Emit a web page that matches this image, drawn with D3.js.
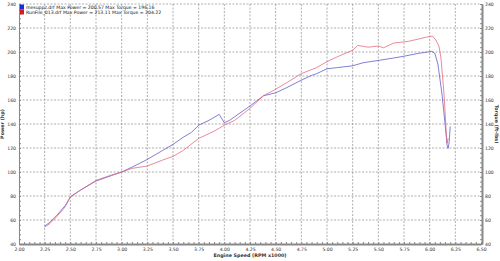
<!DOCTYPE html>
<html>
<head>
<meta charset="utf-8">
<script src="https://cdn.jsdelivr.net/npm/d3@7"></script>
<style>
    body { margin: 0; background: #fff; }
    svg text { font-family: "DejaVu Sans", Verdana, sans-serif; }
</style>
</head>
<body>
<svg id="chart" width="500" height="261"></svg>
<script>
    'use strict';

    // engine speed (RPM x1000) for each run
    var rpmA = [2.25, 2.30, 2.37, 2.45, 2.50, 2.60, 2.75, 2.90, 3.00, 3.10, 3.25, 3.40, 3.50, 3.60, 3.68, 3.75, 3.85, 3.95, 4.00, 4.05, 4.10, 4.25, 4.38, 4.50, 4.60, 4.75, 4.85, 4.90, 5.00, 5.10, 5.25, 5.35, 5.50, 5.65, 5.75, 5.90, 6.02, 6.05, 6.08, 6.12, 6.15, 6.17, 6.18, 6.19, 6.20];
    var powerA = [55, 58, 64, 72, 79, 85, 92.5, 97, 100, 104, 110.5, 118, 123, 129, 133, 139, 143, 148, 141, 143, 146, 155, 163.5, 166, 170, 176.5, 180.5, 182, 186, 187, 188.5, 191, 193, 195, 196.5, 199, 200.5, 199, 190, 165, 140, 122, 119.7, 125, 138];

    var rpmB = [2.25, 2.30, 2.37, 2.45, 2.50, 2.60, 2.75, 2.90, 3.00, 3.10, 3.25, 3.40, 3.50, 3.60, 3.75, 3.90, 4.00, 4.10, 4.25, 4.38, 4.50, 4.60, 4.75, 4.90, 5.00, 5.10, 5.25, 5.30, 5.40, 5.50, 5.55, 5.65, 5.71, 5.80, 5.90, 6.00, 6.03, 6.06, 6.09, 6.11, 6.14, 6.16, 6.17, 6.18];
    var powerB = [54, 57, 63, 71, 79.5, 85, 93, 97.5, 100, 103, 105, 110, 113, 118, 128, 134, 139, 143, 153, 163.5, 169, 174, 182, 187, 192, 196, 201.5, 205.5, 204, 205, 203.5, 207.5, 208, 209, 211, 213, 213.1, 210, 205, 195, 165, 135, 124, 128];

    var seriesNames = ['mesuppz.drf Max Power = 200.57 Max Torque = 196.16',
        'RunFile_013.drf Max Power = 213.11 Max Torque = 204.22'];
    var seriesColors = ['#5656c8', '#e2647a'];

    var xTicks = d3.range(2, 6.51, 0.25);
    var yTicks = d3.range(40, 241, 20);

    var svg = d3.select('#chart');
    var x = d3.scaleLinear().domain([2, 6.5]).range([19, 481]);
    var y = d3.scaleLinear().domain([40, 240]).range([244, 4]);

    // grid
    svg.append('g').selectAll('line')
        .data(xTicks.slice(1, -1))
        .enter().append('line')
        .attr('x1', function (d) { return x(d); })
        .attr('x2', function (d) { return x(d); })
        .attr('y1', y(240)).attr('y2', y(40))
        .attr('stroke', '#8c8c8c').attr('stroke-width', 0.7)
        .attr('stroke-dasharray', '2,1.5');
    svg.append('g').selectAll('line')
        .data(yTicks.slice(1))
        .enter().append('line')
        .attr('x1', x(2)).attr('x2', x(6.5))
        .attr('y1', function (d) { return y(d); })
        .attr('y2', function (d) { return y(d); })
        .attr('stroke', '#8c8c8c').attr('stroke-width', 0.7)
        .attr('stroke-dasharray', '2,1.5');

    // axes
    var fmt2 = d3.format('.2f');
    var bottom = svg.append('g').attr('transform', 'translate(0,' + y(40) + ')')
        .call(d3.axisBottom(x).tickValues(xTicks).tickFormat(fmt2).tickSize(0).tickPadding(4));
    var bottomMinor = svg.append('g').attr('transform', 'translate(0,' + y(40) + ')')
        .call(d3.axisBottom(x).tickValues(d3.range(2, 6.5001, 0.05)).tickFormat('').tickSize(-2));
    var left = svg.append('g').attr('transform', 'translate(' + x(2) + ',0)')
        .call(d3.axisLeft(y).tickValues(yTicks).tickSize(0).tickPadding(3));
    var leftMinor = svg.append('g').attr('transform', 'translate(' + x(2) + ',0)')
        .call(d3.axisLeft(y).tickValues(d3.range(40, 240.1, 4)).tickFormat('').tickSize(-2));
    var right = svg.append('g').attr('transform', 'translate(' + (x(6.5) + 1) + ',0)')
        .call(d3.axisRight(y).tickValues(yTicks).tickSize(0).tickPadding(3));
    var rightMinor = svg.append('g').attr('transform', 'translate(' + (x(6.5) + 1) + ',0)')
        .call(d3.axisRight(y).tickValues(d3.range(40, 240.1, 4)).tickFormat('').tickSize(-2));

    [bottom, left, right].forEach(function (g) {
        g.selectAll('text').attr('font-size', 4.6).attr('fill', '#333');
    });
    [bottom, bottomMinor, left, leftMinor, right, rightMinor].forEach(function (g) {
        g.selectAll('line').attr('stroke', '#888');
        g.select('.domain').attr('stroke', '#888');
    });
    bottom.select('.domain').attr('stroke-width', 2);
    right.select('.domain').attr('stroke-width', 2);

    // lines
    var line = d3.line()
        .x(function (d) { return x(d[0]); })
        .y(function (d) { return y(d[1]); });
    var runs = [d3.zip(rpmA, powerA), d3.zip(rpmB, powerB)];
    svg.append('g').selectAll('path')
        .data(runs)
        .enter().append('path')
        .attr('d', line)
        .attr('fill', 'none')
        .attr('stroke', function (d, i) { return seriesColors[i]; })
        .attr('stroke-width', 0.75);

    // legend
    var legend = svg.append('g').selectAll('g')
        .data(seriesNames)
        .enter().append('g')
        .attr('transform', function (d, i) { return 'translate(20,' + (4.5 + i * 5) + ')'; });
    legend.append('rect')
        .attr('width', 4).attr('height', 5)
        .attr('fill', function (d, i) { return i ? '#d81c1c' : '#1c2ad8'; });
    legend.append('text')
        .attr('x', 6).attr('y', 4)
        .attr('font-size', 4.6).attr('fill', '#111')
        .text(function (d) { return d; });

    // titles
    svg.append('text')
        .attr('transform', 'translate(4,' + y(140) + ') rotate(-90)')
        .attr('text-anchor', 'middle').attr('font-size', 4.8).attr('font-weight', 'bold').attr('fill', '#333')
        .text('Power (hp)');
    svg.append('text')
        .attr('transform', 'translate(495,' + y(140) + ') rotate(90)')
        .attr('text-anchor', 'middle').attr('font-size', 4.8).attr('font-weight', 'bold').attr('fill', '#333')
        .text('Torque (ft-lbs)');
    svg.append('text')
        .attr('x', 250).attr('y', 257)
        .attr('text-anchor', 'middle').attr('font-size', 4.8).attr('font-weight', 'bold').attr('fill', '#333')
        .text('Engine Speed (RPM x1000)');
</script>
</body>
</html>
